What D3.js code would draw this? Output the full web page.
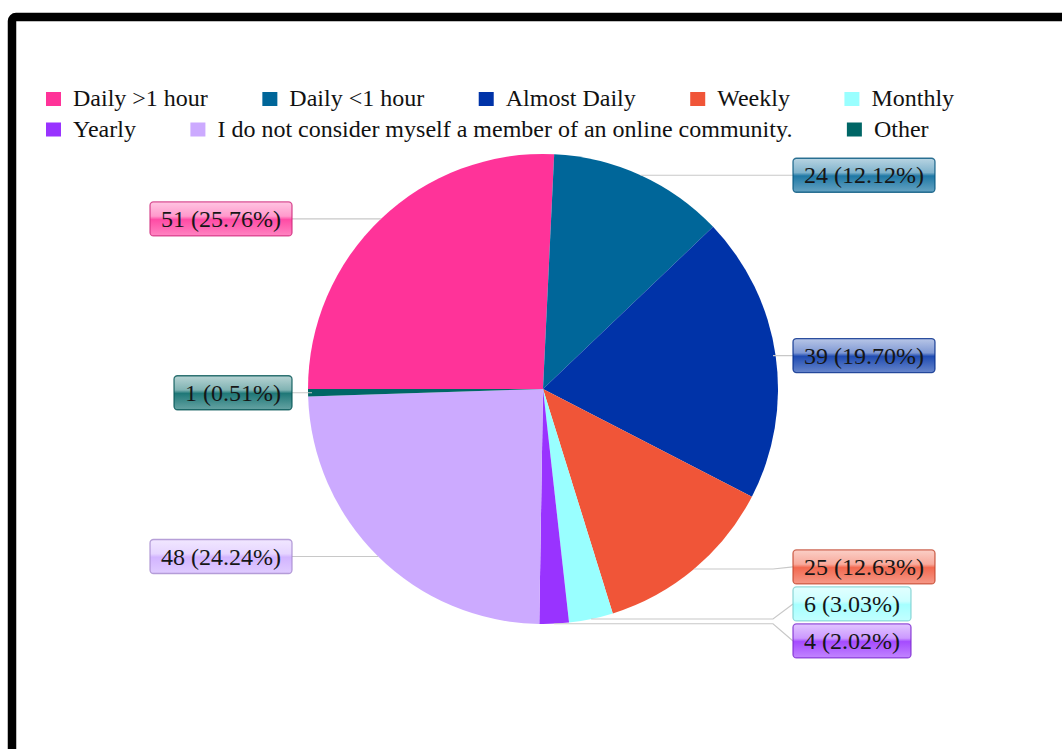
<!DOCTYPE html>
<html>
<head>
<meta charset="utf-8">
<script src="https://cdn.jsdelivr.net/npm/d3@7"></script>
<style>
  html, body { margin: 0; padding: 0; background: #fff; }
  svg { display: block; }
</style>
</head>
<body>
<svg id="chart" width="1062" height="749"></svg>
<script>
// Survey answers: how often respondents take part in an online community
const categories = [
  "Daily >1 hour",
  "Daily <1 hour",
  "Almost Daily",
  "Weekly",
  "Monthly",
  "Yearly",
  "I do not consider myself a member of an online community.",
  "Other"
];
const counts = [51, 24, 39, 25, 6, 4, 48, 1];
const colors = ["#ff3399", "#006699", "#0033a8", "#f05538", "#99ffff", "#9933ff", "#ccaaff", "#006666"];

const W = 1062, H = 749;
const svg = d3.select("#chart");
const FONT = "'Liberation Serif', 'Times New Roman', serif";

// Outer frame
svg.append("rect")
  .attr("x", 12).attr("y", 17)
  .attr("width", 1200).attr("height", 900)
  .attr("rx", 4)
  .attr("fill", "none")
  .attr("stroke", "#000")
  .attr("stroke-width", 8.5);

// ---- Legend (flowing rows) ----
const legend = svg.append("g").attr("font-family", FONT).attr("font-size", 24).attr("fill", "#111");
const legendLeft = 46, legendMaxRight = 1000, rowH = 30.5, firstBaseline = 106;
let lx = legendLeft, row = 0;
categories.forEach((c, i) => {
  const item = legend.append("g");
  const t = item.append("text").attr("x", 27).attr("y", 0).text(c);
  const tw = t.node().getComputedTextLength();
  if (lx + 27 + tw > legendMaxRight && lx > legendLeft) { row++; lx = legendLeft; }
  item.attr("transform", `translate(${lx},${firstBaseline + row * rowH})`);
  item.insert("rect", "text")
    .attr("x", 0).attr("y", -14).attr("width", 15).attr("height", 14)
    .attr("fill", colors[i]);
  lx += 27 + tw + 54.5;
});

// ---- Pie ----
const cx = 543, cy = 389, r = 235;
const total = d3.sum(counts);
const pie = d3.pie().sort(null).startAngle(-Math.PI / 2).endAngle(1.5 * Math.PI);
const arcs = pie(counts);
const arc = d3.arc().innerRadius(0).outerRadius(r);

const g = svg.append("g").attr("transform", `translate(${cx},${cy})`);

// Gradients for glossy label boxes
const defs = svg.append("defs");
colors.forEach((col, i) => {
  const mix = (k) => d3.interpolateRgb(col, "#ffffff")(k);
  const grad = defs.append("linearGradient")
    .attr("id", "lg" + i).attr("x1", 0).attr("y1", 0).attr("x2", 0).attr("y2", 1);
  [[0, mix(0.72)], [0.42, mix(0.5)], [0.52, mix(0.12)], [1, mix(0.4)]].forEach(([o, c]) => {
    grad.append("stop").attr("offset", o).attr("stop-color", c);
  });
});

g.selectAll("path.slice")
  .data(arcs)
  .join("path")
  .attr("class", "slice")
  .attr("d", arc)
  .attr("fill", (d, i) => colors[i]);

// ---- Labels with leader lines ----
const fmt = d3.format(".2f");
const boxH = 34, spacing = 37, padX = 11;
const rightX = 793, leftX = 292, elbow = 20;

const labels = arcs.map((d, i) => {
  const mid = (d.startAngle + d.endAngle) / 2;
  const px = cx + r * Math.sin(mid), py = cy - r * Math.cos(mid);
  return {
    i, px, py, y: py, desired: py,
    side: Math.sin(mid) >= 0 ? "right" : "left",
    text: `${counts[i]} (${fmt(counts[i] / total * 100)}%)`
  };
});

// Resolve vertical overlaps: clusters are centred on their desired positions
function resolve(list) {
  list.sort((a, b) => a.desired - b.desired);
  let clusters = list.map(l => ({ items: [l], mean: l.desired }));
  let changed = true;
  while (changed) {
    changed = false;
    for (let k = 0; k < clusters.length - 1; k++) {
      const a = clusters[k], b = clusters[k + 1];
      const aEnd = a.mean + (a.items.length - 1) * spacing / 2;
      const bStart = b.mean - (b.items.length - 1) * spacing / 2;
      if (bStart - aEnd < spacing) {
        const items = a.items.concat(b.items);
        clusters.splice(k, 2, { items, mean: d3.mean(items, l => l.desired) });
        changed = true;
        break;
      }
    }
  }
  clusters.forEach(c => {
    c.items.forEach((l, j) => { l.y = c.mean + (j - (c.items.length - 1) / 2) * spacing; });
  });
}
resolve(labels.filter(l => l.side === "right"));
resolve(labels.filter(l => l.side === "left"));

const lines = svg.append("g").attr("fill", "none").attr("stroke", "#c8c8c8").attr("stroke-width", 1.2);
const boxes = svg.append("g").attr("font-family", FONT).attr("font-size", 24);

labels.forEach(l => {
  const t = boxes.append("text").attr("y", l.y).attr("dy", "0.34em").attr("fill", "#161616").text(l.text);
  const tw = t.node().getComputedTextLength();
  const bw = tw + padX * 2;
  const bx = l.side === "right" ? rightX : leftX - bw;
  const edge = l.side === "right" ? rightX : leftX;
  const ex = l.side === "right" ? edge - elbow : edge + elbow;

  lines.append("path").attr("d", d3.line()([[l.px, l.py], [ex, l.py], [edge, l.y]]));

  const col = colors[l.i];
  boxes.insert("rect", "text")
    .attr("x", bx).attr("y", l.y - boxH / 2)
    .attr("width", bw).attr("height", boxH)
    .attr("rx", 3.5)
    .attr("fill", `url(#lg${l.i})`)
    .attr("stroke", d3.color(col).darker(0.6))
    .attr("stroke-opacity", 0.8)
    .attr("stroke-width", 1.3);
  t.attr("x", bx + padX);
  // keep text above its own box
  t.raise();
});
</script>
</body>
</html>
